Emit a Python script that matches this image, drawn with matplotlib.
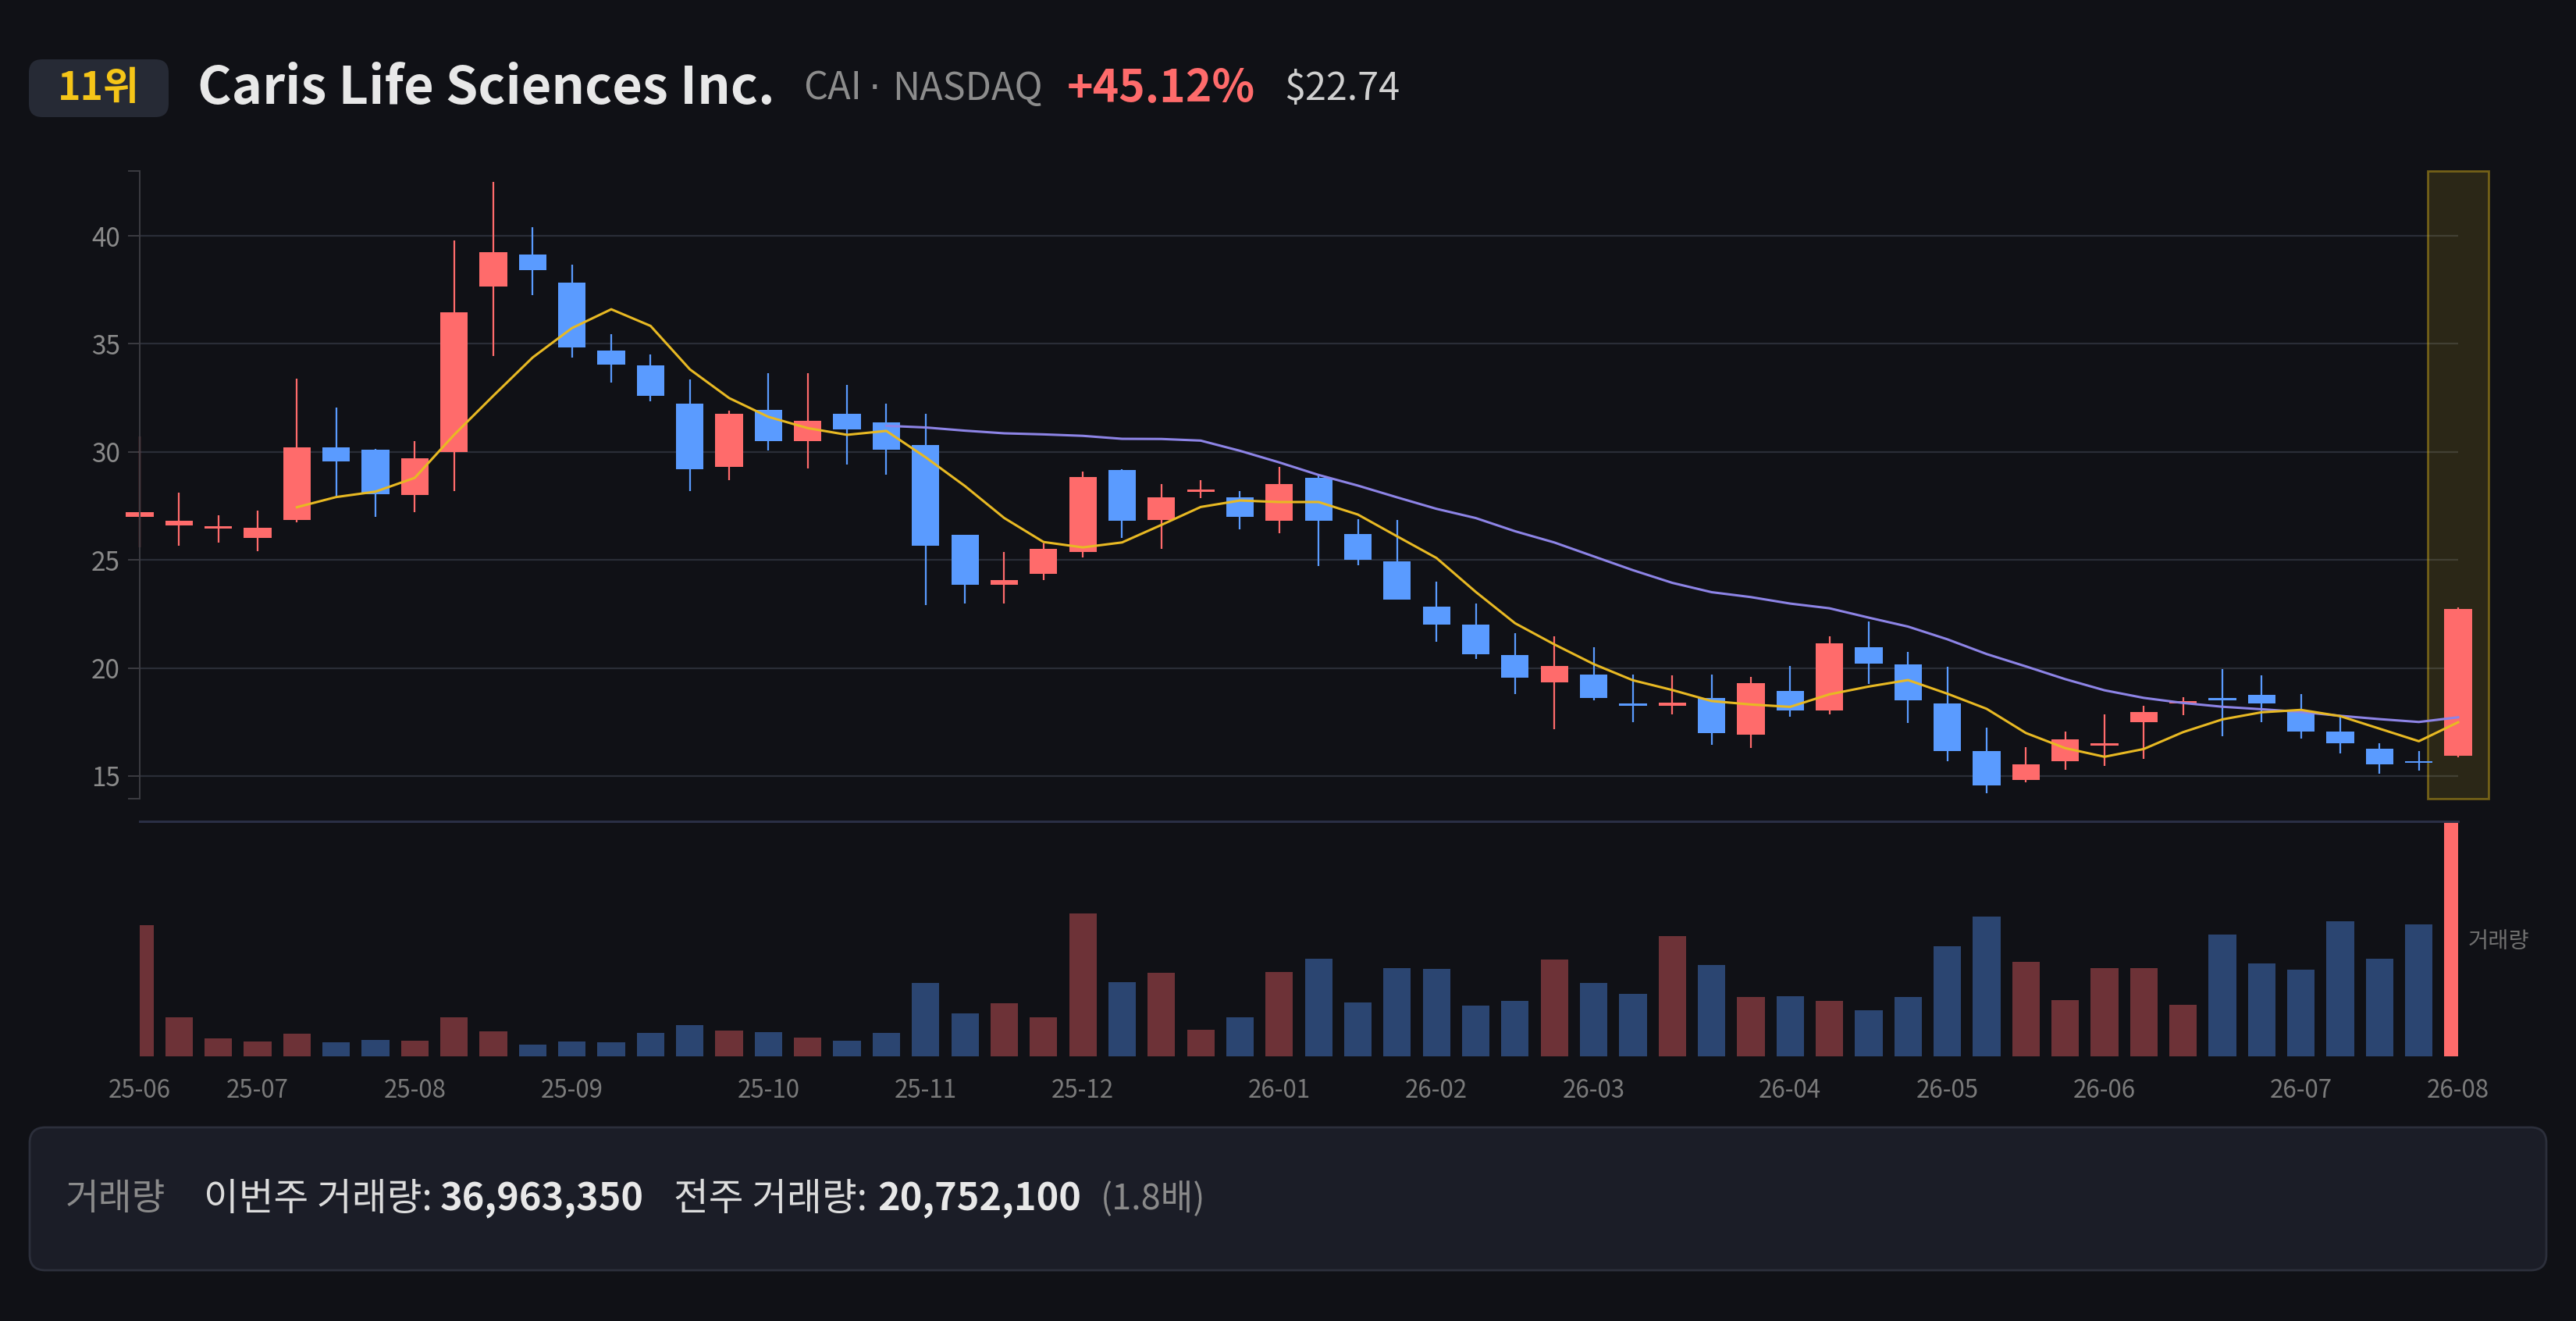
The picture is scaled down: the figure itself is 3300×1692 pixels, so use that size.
import matplotlib
matplotlib.use("Agg")
import matplotlib.pyplot as plt
from matplotlib.patches import Rectangle, FancyBboxPatch
from matplotlib.transforms import IdentityTransform
import numpy as np
import pandas as pd

plt.rcParams['font.family'] = ['Noto Sans CJK KR', 'DejaVu Sans']

# weekly candles, 25-06 .. 26-08
opens = [27.0, 26.6, 26.45, 26.0, 26.85, 30.2, 30.1, 28.0, 30.0, 37.65,
         39.15, 37.85, 34.7, 34.0, 32.25, 29.3, 31.95, 30.5, 31.75, 31.35,
         30.3, 26.15, 23.85, 24.35, 25.35, 29.15, 26.85, 28.15, 27.9, 26.8,
         28.8, 26.2, 24.95, 22.85, 22.0, 20.6, 19.35, 19.7, 18.3, 18.25,
         18.6, 16.9, 18.95, 18.05, 20.95, 20.15, 18.35, 16.15, 14.8, 15.7,
         16.4, 17.5, 18.35, 18.6, 18.75, 17.95, 17.05, 16.25, 15.65, 15.95]
closes = [27.2, 26.8, 26.5, 26.5, 30.2, 29.55, 28.05, 29.7, 36.45, 39.25,
          38.4, 34.85, 34.05, 32.6, 29.2, 31.75, 30.5, 31.45, 31.05, 30.1,
          25.65, 23.85, 24.05, 25.5, 28.85, 26.8, 27.9, 28.2, 27.0, 28.5,
          26.8, 25.0, 23.15, 22.0, 20.65, 19.55, 20.1, 18.6, 18.25, 18.4,
          17.0, 19.3, 18.05, 21.15, 20.2, 18.5, 16.15, 14.55, 15.55, 16.7,
          16.5, 17.95, 18.45, 18.5, 18.35, 17.05, 16.5, 15.55, 15.6, 22.74]
highs = [30.7, 28.1, 27.05, 27.3, 33.4, 32.05, 30.12, 30.5, 39.8, 42.5,
         40.4, 38.65, 35.45, 34.5, 33.35, 31.92, 33.65, 33.65, 33.1, 32.25,
         31.75, 26.17, 25.35, 25.75, 29.1, 29.18, 28.5, 28.7, 28.2, 29.3,
         28.9, 26.9, 26.85, 24.0, 23.0, 21.6, 21.45, 20.95, 19.7, 19.65,
         19.7, 19.6, 20.1, 21.45, 22.15, 20.75, 20.05, 17.25, 16.35, 17.05,
         17.85, 18.25, 18.65, 19.95, 19.65, 18.8, 17.75, 16.5, 16.15, 22.79]
lows = [25.6, 25.65, 25.8, 25.4, 26.75, 27.95, 27.0, 27.2, 28.2, 34.45,
        37.25, 34.35, 33.2, 32.35, 28.2, 28.7, 30.05, 29.25, 29.4, 28.95,
        22.9, 23.0, 23.0, 24.05, 25.1, 26.0, 25.5, 27.85, 26.4, 26.25,
        24.7, 24.75, 23.15, 21.2, 20.4, 18.8, 17.15, 18.5, 17.5, 17.85,
        16.45, 16.3, 17.75, 17.85, 19.25, 17.45, 15.7, 14.2, 14.7, 15.3,
        15.45, 15.8, 17.8, 16.85, 17.5, 16.75, 16.05, 15.1, 15.25, 15.85]
volumes = [20.6e6, 6.2e6, 2.8e6, 2.3e6, 3.6e6, 2.2e6, 2.6e6, 2.5e6, 6.1e6, 3.9e6,
           1.8e6, 2.3e6, 2.2e6, 3.7e6, 4.9e6, 4.0e6, 3.8e6, 3.0e6, 2.5e6, 3.7e6,
           11.5e6, 6.8e6, 8.3e6, 6.2e6, 22.5e6, 11.7e6, 13.2e6, 4.2e6, 6.2e6, 13.3e6,
           15.4e6, 8.5e6, 13.9e6, 13.8e6, 8.0e6, 8.7e6, 15.2e6, 11.5e6, 9.8e6, 18.9e6,
           14.4e6, 9.3e6, 9.4e6, 8.7e6, 7.3e6, 9.3e6, 17.3e6, 22.0e6, 14.9e6, 8.8e6,
           13.9e6, 13.9e6, 8.1e6, 19.1e6, 14.6e6, 13.6e6, 21.2e6, 15.4e6, 20752100, 36963350]
tick_pos = [0, 3, 7, 11, 16, 20, 24, 29, 33, 37, 42, 46, 50, 55, 59]
tick_labels = ['25-06', '25-07', '25-08', '25-09', '25-10', '25-11', '25-12',
               '26-01', '26-02', '26-03', '26-04', '26-05', '26-06', '26-07', '26-08']

BG = '#101116'
UP = '#ff6b6b'
DOWN = '#5a9bff'
W, H = 3300, 1692

fig = plt.figure(figsize=(W / 100, H / 100), dpi=100, facecolor=BG)

# price panel
ax = fig.add_axes([179 / W, 1 - 1023 / H, 2970 / W, 804 / H], facecolor=BG)
# volume panel
axv = fig.add_axes([179 / W, 1 - 1353 / H, 2970 / W, 301 / H], facecolor=BG)

x = np.arange(len(closes))
o = np.array(opens)
c = np.array(closes)
up = c >= o
colors = np.where(up, UP, DOWN)

ax.vlines(x, lows, highs, colors=colors, lw=1.6, zorder=3, clip_on=False)
body_lo = np.minimum(o, c)
body_h = np.maximum(np.abs(c - o), 0.1)
bars = ax.bar(x, body_h, bottom=body_lo, width=0.7, color=colors, zorder=4)
for b in bars:
    b.set_clip_on(False)

ma5 = pd.Series(closes).rolling(5).mean()
ma20 = pd.Series(closes).rolling(20).mean()
ax.plot(x, ma20, color='#8d84e6', lw=2.2, zorder=5, clip_on=False)
ax.plot(x, ma5, color='#e8b923', lw=2.2, zorder=6, clip_on=False)

ylo, yhi = 13.95, 43.0
ax.set_xlim(0, 59)
ax.set_ylim(ylo, yhi)

# highlight current week
ax.add_patch(Rectangle((59 - 0.78, ylo), 1.56, yhi - ylo, facecolor=(0.95, 0.8, 0.15, 0.12),
                       edgecolor=(0.85, 0.7, 0.1, 0.45), lw=2, zorder=2, clip_on=False))

ax.set_yticks([15, 20, 25, 30, 35, 40])
ax.set_yticks([ylo, yhi], minor=True)
ax.grid(axis='y', color='#2a2d37', lw=1.6, zorder=0)
ax.tick_params(axis='y', which='both', length=11, width=1.4, color='#3c3c42',
               labelcolor='#8a8a8a', labelsize=24, pad=7)
ax.tick_params(axis='x', bottom=False, labelbottom=False)
for s in ['top', 'right', 'bottom']:
    ax.spines[s].set_visible(False)
ax.spines['left'].set_color('#3c3c42')
ax.spines['left'].set_linewidth(1.4)
ax.spines['left'].set_zorder(7)

# volume bars
vcolors = np.where(up, '#6d3237', '#2b4571')
vcolors[-1] = UP
axv.bar(x, volumes, width=0.7, color=vcolors)
axv.set_xlim(0, 59)
axv.set_ylim(0, max(volumes))
axv.set_yticks([])
axv.set_xticks(tick_pos)
axv.set_xticklabels(tick_labels)
axv.tick_params(axis='x', length=0, labelcolor='#7a7a7a', labelsize=22.5, pad=20)
for s in ['left', 'right', 'bottom']:
    axv.spines[s].set_visible(False)
axv.spines['top'].set_color('#2a2f45')
axv.spines['top'].set_linewidth(2.2)
fig.text(3162 / W, 1 - 1206 / H, '거래량', color='#707070', fontsize=20.5, va='center', ha='left')

# header
fig.add_artist(FancyBboxPatch((37, H - 150), 179, 74, boxstyle='round,pad=0,rounding_size=17',
                              transform=IdentityTransform(), facecolor='#262a35', edgecolor='none'))
ty = 1 - 114 / H
fig.text(126 / W, ty, '11위', color='#f5c518', fontsize=36, fontweight='bold', ha='center', va='center')
fig.text(253 / W, ty, 'Caris Life Sciences Inc.', color='#e8e8e8', fontsize=48, fontweight='bold', va='center')
fig.text(1029 / W, ty, 'CAI', color='#8c8c8c', fontsize=35, va='center')
fig.text(1121 / W, ty, '·', color='#8c8c8c', fontsize=35, va='center', ha='center', family='DejaVu Sans')
fig.text(1143 / W, ty, 'NASDAQ', color='#8c8c8c', fontsize=35, va='center')
fig.text(1367 / W, ty, '+45.12%', color=UP, fontsize=41, fontweight='bold', va='center')
fig.text(1645 / W, ty, '$22.74', color='#d0d0d0', fontsize=35, va='center')

# volume summary box
fig.add_artist(FancyBboxPatch((38, H - 1627), 3224, 183, boxstyle='round,pad=0,rounding_size=20',
                              transform=IdentityTransform(), facecolor='#1b1d27', edgecolor='#2c2f3b', lw=2))
by = 1 - 1536 / H
fig.text(84 / W, by, '거래량', color='#8a8a8a', fontsize=33.5, va='center')
fig.text(261 / W, by, '이번주 거래량:', color='#dcdcdc', fontsize=35, va='center')
fig.text(564 / W, by, '36,963,350', color='#e8e8e8', fontsize=35, fontweight='bold', va='center')
fig.text(863 / W, by, '전주 거래량:', color='#dcdcdc', fontsize=35, va='center')
fig.text(1124 / W, by, '20,752,100', color='#e8e8e8', fontsize=35, fontweight='bold', va='center')
fig.text(1410 / W, by, '(1.8배)', color='#8a8a8a', fontsize=32.5, va='center')

fig.savefig('out.png', dpi=100, facecolor=BG)
